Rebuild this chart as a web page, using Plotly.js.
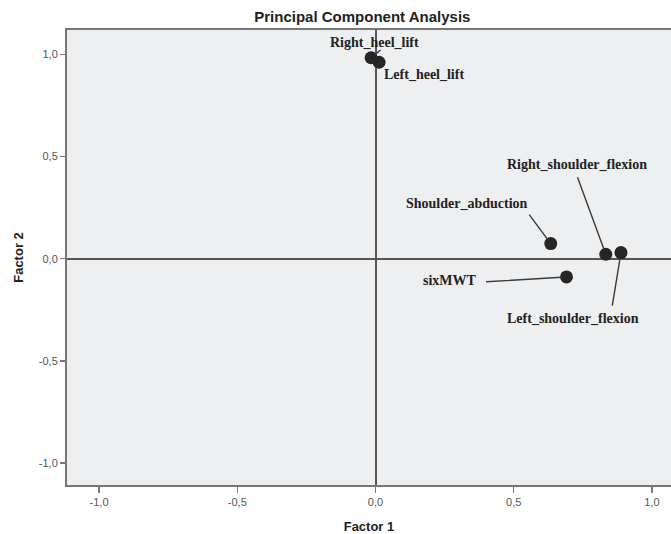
<!DOCTYPE html>
<html>
<head>
<meta charset="utf-8">
<script src="https://cdn.plot.ly/plotly-3.0.1.min.js"></script>
<style>html,body{margin:0;padding:0;background:#fff;}#chart{width:671px;height:534px;}</style>
</head>
<body>
<div id="chart"></div>
<script>
// Variable names and their loadings
const variables = ["Right_heel_lift", "Left_heel_lift", "Shoulder_abduction", "Right_shoulder_flexion", "Left_shoulder_flexion", "sixMWT"];
const factor1 = [-0.016, 0.013, 0.634, 0.833, 0.888, 0.691];
const factor2 = [0.984, 0.962, 0.074, 0.022, 0.030, -0.089];
const tickValues = [-1.0, -0.5, 0.0, 0.5, 1.0];
const tickLabels = ["-1,0", "-0,5", "0,0", "0,5", "1,0"];

// label text offsets (pixels) from each point, and leader-line tail offsets (null = no line)
const labelShift = [
  {dx: 3, dy: 15},
  {dx: 45, dy: -12},
  {dx: -84, dy: 40},
  {dx: -29, dy: 90},
  {dx: -48, dy: -66},
  {dx: -117, dy: -4}
];
const leaderTail = [
  {ax: 11, ay: -9},
  null,
  {ax: -23, ay: -31},
  {ax: -29, ay: -79},
  {ax: -9, ay: 55},
  {ax: -82, ay: 5}
];

const trace = {
  x: factor1,
  y: factor2,
  mode: "markers",
  type: "scatter",
  marker: {size: 13, color: "#262626", line: {width: 0}},
  hoverinfo: "text",
  text: variables
};

const labelFont = {family: "Liberation Serif, Times New Roman, serif", size: 14, color: "#222", weight: "bold"};
const annotations = [];
variables.forEach((v, i) => {
  if (leaderTail[i]) {
    annotations.push({
      x: factor1[i], y: factor2[i], xref: "x", yref: "y",
      text: " ", font: {size: 1},
      showarrow: true, arrowhead: 0, arrowwidth: 1.4, arrowcolor: "#3a3a3a",
      standoff: 5,
      ax: leaderTail[i].ax, ay: leaderTail[i].ay
    });
  }
  annotations.push({
    x: factor1[i], y: factor2[i], xref: "x", yref: "y",
    text: v, showarrow: false,
    xanchor: "center", yanchor: "middle",
    xshift: labelShift[i].dx, yshift: labelShift[i].dy,
    font: labelFont
  });
});

const layout = {
  width: 671, height: 534,
  margin: {l: 67, r: 0, t: 30, b: 49},
  paper_bgcolor: "#ffffff",
  plot_bgcolor: "#eeeff1",
  separators: ",.",
  showlegend: false,
  title: {
    text: "<b>Principal Component Analysis</b>",
    font: {family: "Liberation Sans, Arial, sans-serif", size: 15, color: "#222"},
    x: 0.54, xanchor: "center", y: 0.979, yanchor: "top"
  },
  xaxis: {
    range: [-1.116, 1.069],
    tickvals: tickValues,
    ticktext: tickLabels,
    showgrid: false,
    zeroline: true, zerolinecolor: "#555", zerolinewidth: 2,
    showline: true, linecolor: "#777", linewidth: 2, mirror: true,
    ticks: "outside", ticklen: 6, tickwidth: 1.5, tickcolor: "#777",
    tickfont: {family: "Liberation Sans, Arial, sans-serif", size: 11, color: "#555"},
    title: {text: "<b>Factor 1</b>", font: {family: "Liberation Sans, Arial, sans-serif", size: 13, color: "#222"}, standoff: 16}
  },
  yaxis: {
    range: [-1.108, 1.12],
    tickvals: tickValues,
    ticktext: tickLabels,
    showgrid: false,
    zeroline: true, zerolinecolor: "#555", zerolinewidth: 2,
    showline: true, linecolor: "#777", linewidth: 2, mirror: false,
    ticks: "outside", ticklen: 5, tickwidth: 1.5, tickcolor: "#777",
    tickfont: {family: "Liberation Sans, Arial, sans-serif", size: 11, color: "#555"},
    title: {text: "<b>Factor 2</b>", font: {family: "Liberation Sans, Arial, sans-serif", size: 13, color: "#222"}, standoff: 12}
  },
  annotations: annotations
};

Plotly.newPlot("chart", [trace], layout, {displayModeBar: false, staticPlot: true});
</script>
</body>
</html>
